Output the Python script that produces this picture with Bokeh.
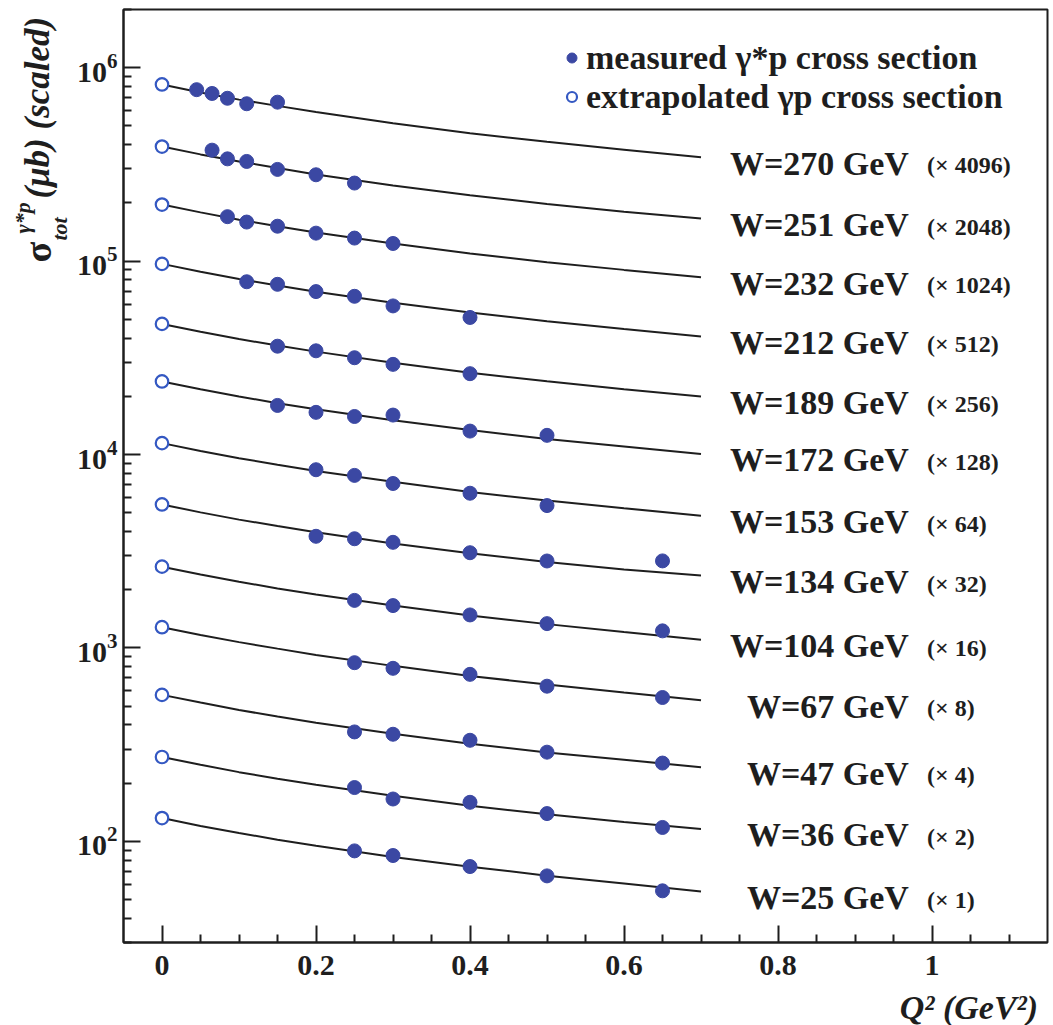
import math
from bokeh.plotting import figure
from bokeh.layouts import row, column
from bokeh.models import ColumnDataSource, FixedTicker, Legend, LegendItem, Range1d
from bokeh.core.properties import value
from bokeh.embed import file_html
from bokeh.resources import INLINE

# ---------------- data ----------------
W_values = [270, 251, 232, 212, 189, 172, 153, 134, 104, 67, 47, 36, 25]
scale_factors = [4096, 2048, 1024, 512, 256, 128, 64, 32, 16, 8, 4, 2, 1]
scale_labels = ["(× 4096)", "(× 2048)", "(× 1024)", "(× 512)", "(× 256)", "(× 128)",
                "(× 64)", "(× 32)", "(× 16)", "(× 8)", "(× 4)", "(× 2)", "(× 1)"]

# extrapolated gamma-p cross sections at Q^2 = 0 (microbarn, unscaled)
q2_extrap = [0.0] * 13
sigma_extrap = [200, 191, 191.5, 189, 185, 186.5, 179, 172.5, 164.5, 160, 143, 136.5, 132]

# measured gamma*-p cross sections (microbarn, unscaled)
q2_w270 = [0.045, 0.065, 0.085, 0.11, 0.15]
sig_w270 = [188, 179.7, 169.7, 159, 162]
q2_w251 = [0.065, 0.085, 0.11, 0.15, 0.20, 0.25]
sig_w251 = [183, 165, 160, 145.5, 136.5, 123.7]
q2_w232 = [0.085, 0.11, 0.15, 0.20, 0.25, 0.30]
sig_w232 = [165.8, 155.5, 148, 136.3, 128.5, 120.5]
q2_w212 = [0.11, 0.15, 0.20, 0.25, 0.30, 0.40]
sig_w212 = [152.8, 148.2, 135.9, 128.5, 114.6, 99.9]
q2_w189 = [0.15, 0.20, 0.25, 0.30, 0.40]
sig_w189 = [141.9, 134.3, 123.7, 114.3, 102.3]
q2_w172 = [0.15, 0.20, 0.25, 0.30, 0.40, 0.50]
sig_w172 = [140.2, 129.1, 122.9, 125, 103.3, 98.2]
q2_w153 = [0.20, 0.25, 0.30, 0.40, 0.50]
sig_w153 = [130.4, 121.9, 110.7, 98.6, 85.1]
q2_w134 = [0.20, 0.25, 0.30, 0.40, 0.50, 0.65]
sig_w134 = [118.1, 114.7, 109.9, 97.1, 88, 88.1]
q2_w104 = [0.25, 0.30, 0.40, 0.50, 0.65]
sig_w104 = [110.1, 103.5, 92.6, 83.5, 76.6]
q2_w67 = [0.25, 0.30, 0.40, 0.50, 0.65]
sig_w67 = [104.9, 98.1, 91.3, 79.3, 69.3]
q2_w47 = [0.25, 0.30, 0.40, 0.50, 0.65]
sig_w47 = [92, 89.5, 83.3, 72.3, 63.5]
q2_w36 = [0.25, 0.30, 0.40, 0.50, 0.65]
sig_w36 = [94.9, 82.8, 79.6, 69.6, 59]
q2_w25 = [0.25, 0.30, 0.40, 0.50, 0.65]
sig_w25 = [89.3, 84.5, 74.1, 66.3, 55.5]

# fitted curves read at these Q^2 values (microbarn, unscaled)
curve_q2 = [0, 0.05, 0.1, 0.15, 0.2, 0.3, 0.4, 0.5, 0.6, 0.7]
curve_w270 = [200, 182, 167, 155, 144, 126, 112, 101, 92, 84]
curve_w251 = [191, 174, 160, 148, 137, 120, 107, 96.5, 88, 81]
curve_w232 = [191.5, 174.5, 160, 148, 137.5, 120.5, 107, 96.5, 88, 80.5]
curve_w212 = [189, 172, 158, 146, 135.5, 119, 106, 95.5, 87, 79.7]
curve_w189 = [185, 168.5, 154.5, 143, 133, 116.5, 103.5, 93.5, 85, 78]
curve_w172 = [186.5, 170, 156, 144, 134, 117.5, 104.5, 94, 86, 78.7]
curve_w153 = [179, 163, 149.5, 138.5, 128.5, 113, 100, 90.5, 82.5, 75.5]
curve_w134 = [172.5, 157, 144, 133.5, 124, 108.5, 96.5, 87, 79.5, 74]
curve_w104 = [164.5, 150, 137.5, 127, 118, 103.5, 92, 83, 75.5, 69]
curve_w67 = [160, 146, 134, 124, 115, 101, 89.5, 81, 73.5, 67]
curve_w47 = [143, 130.5, 119.5, 110.5, 102.5, 90, 80, 72, 66, 60.5]
curve_w36 = [136.5, 124.5, 114, 105.5, 98, 86, 76.5, 69, 63, 58]
curve_w25 = [132, 120, 110.5, 102, 95, 83, 74, 66.5, 60.5, 55]

x_ticks = [0, 0.2, 0.4, 0.6, 0.8, 1.0]
x_tick_labels = ["0", "0.2", "0.4", "0.6", "0.8", "1"]
y_ticks = [1e2, 1e3, 1e4, 1e5, 1e6]

meas_q2 = [q2_w270, q2_w251, q2_w232, q2_w212, q2_w189, q2_w172, q2_w153,
           q2_w134, q2_w104, q2_w67, q2_w47, q2_w36, q2_w25]
meas_sig = [sig_w270, sig_w251, sig_w232, sig_w212, sig_w189, sig_w172, sig_w153,
            sig_w134, sig_w104, sig_w67, sig_w47, sig_w36, sig_w25]
curves = [curve_w270, curve_w251, curve_w232, curve_w212, curve_w189, curve_w172,
          curve_w153, curve_w134, curve_w104, curve_w67, curve_w47, curve_w36, curve_w25]

# ---------------- styling ----------------
FONT = "Liberation Serif"
INK = "#1e1e1e"
FILL_BLUE = "#3b48a3"
OPEN_BLUE = "#3458c2"

LEFT_W = 73          # strip holding the rotated y title
BOTTOM_H = 36        # strip holding the x title
TOTAL_W, TOTAL_H = 1053, 1025

p = figure(width=TOTAL_W - LEFT_W, height=TOTAL_H - BOTTOM_H, title=None,
           x_range=Range1d(-0.05, 1.15), y_range=Range1d(30, 2e6),
           y_axis_type="log", output_backend="svg", toolbar_location=None,
           min_border_left=120 - LEFT_W, min_border_right=6, min_border_top=9,
           min_border_bottom=83 - BOTTOM_H)
p.grid.visible = False
p.background_fill_color = "white"
p.border_fill_color = "white"
p.outline_line_color = INK
p.outline_line_width = 2

x_minor = [round(0.05 * i, 2) for i in range(1, 23) if i % 4 != 0]
y_minor = [k * 10 ** n for n in range(1, 7) for k in range(2, 10) if 30 <= k * 10 ** n <= 2e6]
p.xaxis.ticker = FixedTicker(ticks=x_ticks, minor_ticks=x_minor)
p.xaxis.major_label_overrides = {t: s for t, s in zip(x_ticks, x_tick_labels)}
p.yaxis.ticker = FixedTicker(ticks=y_ticks, minor_ticks=y_minor)

for ax in (p.xaxis[0], p.yaxis[0]):
    ax.axis_line_color = INK
    ax.axis_line_width = 2
    ax.major_tick_line_color = INK
    ax.minor_tick_line_color = INK
    ax.major_tick_line_width = 2
    ax.minor_tick_line_width = 2
    ax.major_tick_in = 17
    ax.major_tick_out = 0
    ax.minor_tick_in = 8
    ax.minor_tick_out = 0
    ax.major_label_text_font = FONT
    ax.major_label_text_font_style = "bold"
    ax.major_label_text_font_size = "30px"
    ax.major_label_text_color = INK
p.xaxis.major_label_standoff = 13
p.yaxis.major_label_standoff = 6

# curves
for cv, sf in zip(curves, scale_factors):
    p.line(curve_q2, [v * sf for v in cv], line_color=INK, line_width=2)

# measured points
mx, my = [], []
for qs, ss, sf in zip(meas_q2, meas_sig, scale_factors):
    mx += qs
    my += [s * sf for s in ss]
r_meas = p.scatter(mx, my, marker="circle", size=14, fill_color=FILL_BLUE,
                   line_color=FILL_BLUE, line_width=1)

# extrapolated points
r_ext = p.scatter(q2_extrap, [s * f for s, f in zip(sigma_extrap, scale_factors)],
                  marker="circle", size=12.5, fill_color="white",
                  line_color=OPEN_BLUE, line_width=2.2)

# W labels at the curve ends
end_y = [c[-1] * f for c, f in zip(curves, scale_factors)]
lab_src = ColumnDataSource(dict(
    x=[0.97] * 13, x2=[0.9935] * 13, y=end_y,
    w=["W=%d GeV" % w for w in W_values], s=scale_labels))
p.text(x="x", y="y", text="w", source=lab_src, text_align="right", text_baseline="middle",
       y_offset=6, text_font=value(FONT), text_font_style="bold", text_font_size="34px",
       text_color=INK)
p.text(x="x2", y="y", text="s", source=lab_src, text_align="left", text_baseline="middle",
       y_offset=8, text_font=value(FONT), text_font_style="bold", text_font_size="24px",
       text_color=INK)

# legend (location = bottom-left corner, frame pixels)
legend = Legend(items=[LegendItem(label="measured γ*p cross section", renderers=[r_meas]),
                       LegendItem(label="extrapolated γp cross section", renderers=[r_ext])],
                location=(436, 826), padding=0, margin=0, spacing=0,
                glyph_width=25, glyph_height=25, label_height=39, label_standoff=2,
                label_text_font=FONT, label_text_font_style="bold",
                label_text_font_size="34px", label_text_color=INK,
                border_line_alpha=0, background_fill_alpha=0)
p.add_layout(legend)

# ---------------- left strip: rotated y title (1 unit = 1 pixel) ----------------
left = figure(width=LEFT_W, height=TOTAL_H, title=None, x_range=Range1d(0, LEFT_W),
              y_range=Range1d(0, TOTAL_H), x_axis_location=None, y_axis_location=None,
              toolbar_location=None, output_backend="svg", min_border=0)
left.grid.visible = False
left.outline_line_color = None
left.background_fill_color = "white"
left.border_fill_color = "white"


def ytitle(text, x, y_top_down, size, style="bold italic"):
    left.text(x=[x], y=[TOTAL_H - y_top_down], text=[text], angle=math.pi / 2,
              text_align="left", text_baseline="alphabetic", text_font=value(FONT),
              text_font_style=style, text_font_size=size, text_color=INK)


ytitle("σ", 37, 262, "38px", "bold")
ytitle("γ*p", 22, 233, "22px")
ytitle("tot", 59, 240, "22px")
ytitle("(μb) (scaled)", 37, 198, "35px")

# ---------------- bottom strip: x title ----------------
BW = TOTAL_W - LEFT_W
bottom = figure(width=BW, height=BOTTOM_H, title=None, x_range=Range1d(0, BW),
                y_range=Range1d(0, BOTTOM_H), x_axis_location=None, y_axis_location=None,
                toolbar_location=None, output_backend="svg", min_border=0)
bottom.grid.visible = False
bottom.outline_line_color = None
bottom.background_fill_color = "white"
bottom.border_fill_color = "white"
bottom.text(x=[1043 - LEFT_W], y=[18], text=["Q² (GeV²)"],
            text_align="right", text_baseline="alphabetic", text_font=value(FONT),
            text_font_style="bold italic", text_font_size="34px", text_color=INK)

layout = row(left, column(p, bottom, spacing=0), spacing=0)
open("out.html", "w").write(file_html(layout, INLINE))
